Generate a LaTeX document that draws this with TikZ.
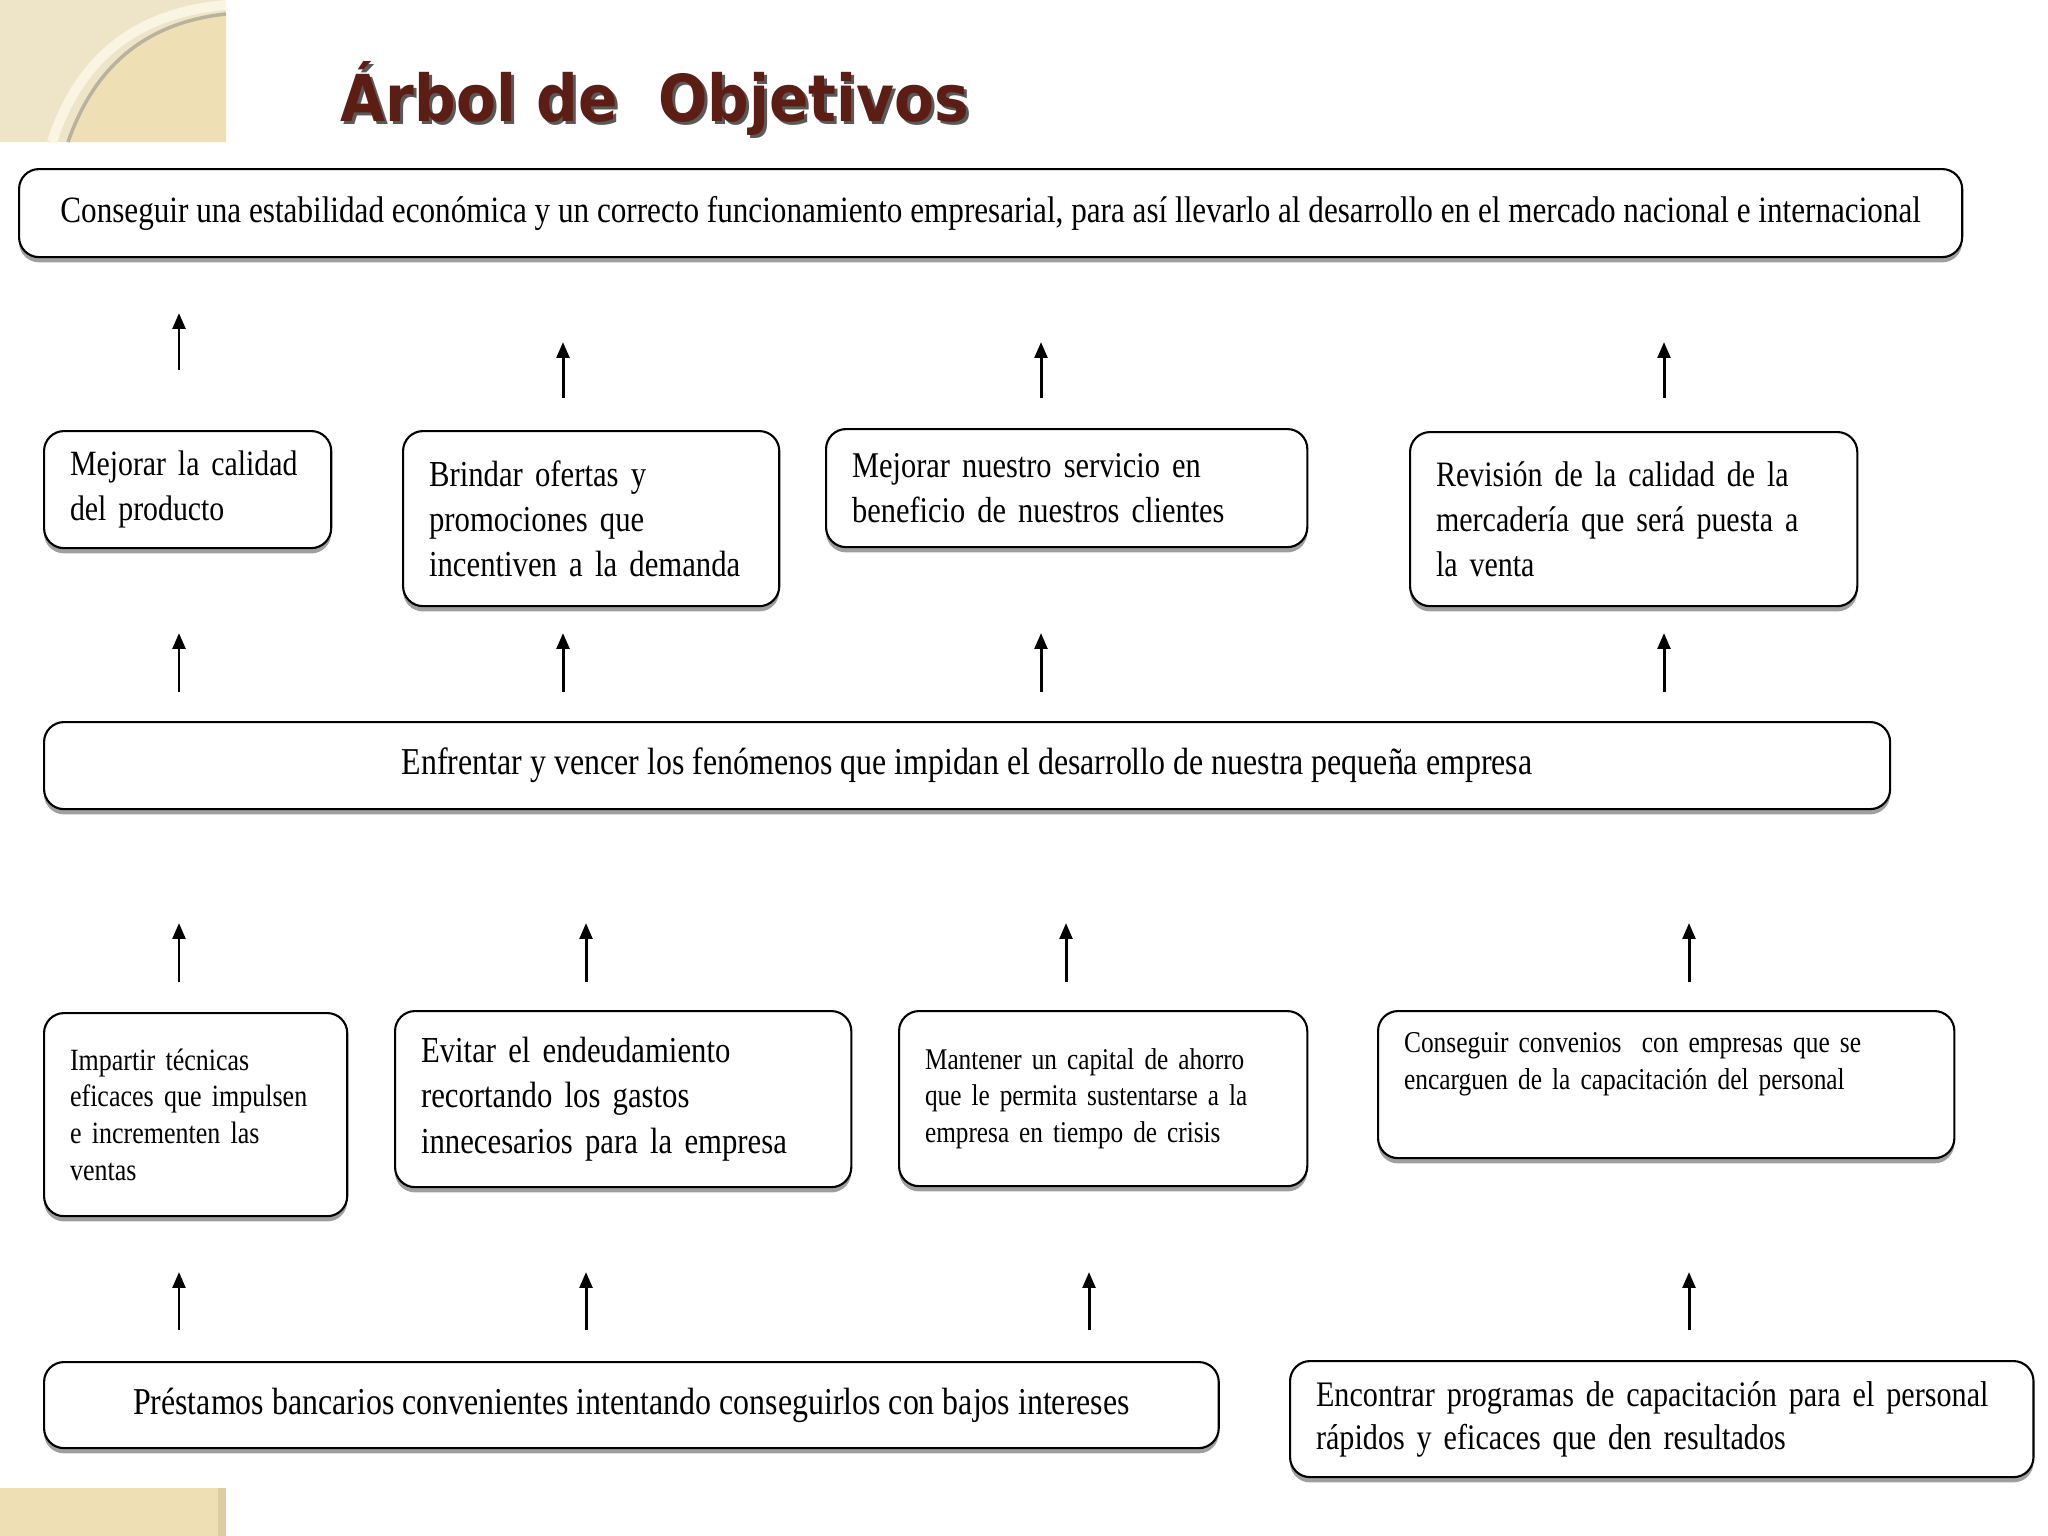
\documentclass[tikz,border=0pt]{standalone}
\usepackage{fontspec}
\setmainfont{Liberation Serif}[FakeStretch=0.84]
\newfontfamily\titlefont{DejaVu Sans}[FakeStretch=0.9]
\usepackage{tikz}
\usetikzlibrary{arrows.meta, shadows}

\definecolor{titlebrown}{RGB}{92,30,20}
\definecolor{paper}{RGB}{238,229,200}
\definecolor{paperdark}{RGB}{238,224,180}
\definecolor{cream}{RGB}{250,244,226}

\begin{document}
\begin{tikzpicture}[
    x=0.01cm, y=-0.01cm,
    box/.style={draw, line width=0.6pt, rounded corners=0.2cm, fill=white,
        anchor=north west, inner xsep=0.26cm, inner ysep=0pt,
        execute at begin node={\hyphenpenalty=10000\relax},
        drop shadow={shadow xshift=0pt, shadow yshift=-1.5pt, opacity=0.75}},
    lbox/.style={box, align=left},
    cbox/.style={box, align=center},
    fs/.style={font=\fontsize{#1}{12.8}\selectfont},
    fss/.style={font=\fontsize{#1}{10.4}\selectfont},
    heading/.style={font=\titlefont\bfseries\fontsize{18.4}{20}\selectfont},
    arr/.style={-{Triangle[length=4.5pt, width=3.6pt]}, line width=0.85pt}
]
    % page
    \useasboundingbox (0,0) rectangle (2048,1536);
    \fill[white] (0,0) rectangle (2048,1536);

    % corner ornaments
    \fill[paper] (0,0) rectangle (226,142);
    \fill[paperdark] (68,142) .. controls (96,62) and (150,22) .. (226,14) -- (226,142) -- cycle;
    \draw[cream, line width=0.1cm] (52,142) .. controls (80,55) and (140,12) .. (226,5);
    \draw[black!22!paper, line width=0.035cm] (68,142) .. controls (96,62) and (150,22) .. (226,14);
    \fill[paperdark] (0,1488) rectangle (226,1536);
    \fill[paperdark!92!black] (218,1488) rectangle (226,1536);

    % title
    \node[heading, text=black!65] (titleshadow) at (658,101) {Árbol de\ \ Objetivos};
    \node[heading, text=titlebrown] (title) at (655,98) {Árbol de\ \ Objetivos};

    % Nodes
    \node[cbox, fs=10.55, minimum width=19.42cm, minimum height=0.88cm] (fin) at (18,168)
        {Conseguir una estabilidad económica y un correcto funcionamiento empresarial, para así llevarlo al desarrollo en el mercado nacional e internacional};

    \node[lbox, fs=10.1, text width=2.35cm, minimum height=1.17cm] (obj1) at (43,430)
        {Mejorar la calidad\\del producto};
    \node[lbox, fs=10.4, text width=3.24cm, minimum height=1.75cm] (obj2) at (402,430)
        {Brindar ofertas y\\promociones que\\incentiven a la demanda};
    \node[lbox, fs=10.3, text width=4.29cm, minimum height=1.18cm] (obj3) at (825,428)
        {Mejorar nuestro servicio en\\beneficio de nuestros clientes};
    \node[lbox, fs=10.15, text width=3.95cm, minimum height=1.74cm] (obj4) at (1409,431)
        {Revisión de la calidad de la\\mercadería que será puesta a\\la venta};

    \node[cbox, fs=10.8, minimum width=18.45cm, minimum height=0.87cm] (prop) at (43,721)
        {Enfrentar y vencer los fenómenos que impidan el desarrollo de nuestra pequeña empresa};

    \node[lbox, fss=8.8, text width=2.51cm, minimum height=2.03cm] (med1) at (43,1012)
        {Impartir técnicas\\eficaces que impulsen\\e incrementen las\\ventas};
    \node[lbox, font=\fontsize{10.4}{13}\selectfont, text width=4.04cm, minimum height=1.76cm] (med2) at (394,1010)
        {Evitar el endeudamiento\\recortando los gastos\\innecesarios para la empresa};
    \node[lbox, fss=8.55, text width=3.56cm, minimum height=1.75cm] (med3) at (898,1010)
        {Mantener un capital de ahorro\\que le permita sustentarse a la\\empresa en tiempo de crisis};
    \node[lbox, fss=8.6, text width=5.24cm, minimum height=1.47cm] (med4) at (1377,1010)
        {Conseguir convenios\ \ con empresas que se\\encarguen de la capacitación del personal\\\strut};

    \node[cbox, fs=10.8, minimum width=11.74cm, minimum height=0.86cm] (acc1) at (43,1361)
        {Préstamos bancarios convenientes intentando conseguirlos con bajos intereses};
    \node[lbox, font=\fontsize{10.2}{12.2}\selectfont, text width=6.91cm, minimum height=1.16cm] (acc2) at (1289,1360)
        {Encontrar programas\ de capacitación para el personal\\rápidos y eficaces que den resultados};

    % Arrows
    \foreach \n/\x/\ya/\yb in {
        up1/179/370/313, up2/563/398/342, up3/1041/398/342, up4/1664/398/342,
        mid1/179/692/633, mid2/563/692/633, mid3/1041/692/633, mid4/1664/692/633,
        low1/179/982/923, low2/586/982/923, low3/1066/982/923, low4/1689/982/923,
        bot1/179/1330/1272, bot2/586/1330/1272, bot3/1089/1330/1272, bot4/1689/1330/1272} {
        \coordinate (\n s) at (\x,\ya);
        \coordinate (\n e) at (\x,\yb);
        \draw[arr] (\n s) -- (\n e);
    }
\end{tikzpicture}
\end{document}
